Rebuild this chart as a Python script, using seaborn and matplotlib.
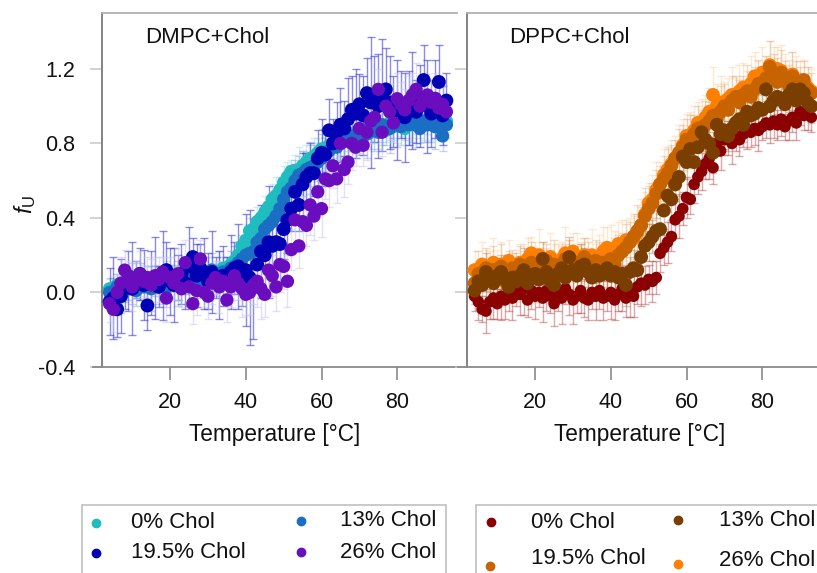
import matplotlib
matplotlib.use("Agg")
import numpy as np
import pandas as pd
import matplotlib.pyplot as plt
import seaborn as sns
from matplotlib.lines import Line2D
from matplotlib.patches import Rectangle

sns.set_style("white")
plt.rcParams["font.family"] = ["Liberation Sans", "DejaVu Sans"]
plt.rcParams["mathtext.fontset"] = "custom"
plt.rcParams["mathtext.rm"] = "Liberation Sans"
plt.rcParams["mathtext.it"] = "Liberation Sans:italic"

# ---------------- data ----------------
temperature = [4, 5, 6, 7, 8, 9, 10, 11, 12, 13,
               14, 15, 16, 17, 18, 19, 20, 21, 22, 23,
               24, 25, 26, 27, 28, 29, 30, 31, 32, 33,
               34, 35, 36, 37, 38, 39, 40, 41, 42, 43,
               44, 45, 46, 47, 48, 49, 50, 51, 52, 53,
               54, 55, 56, 57, 58, 59, 60, 61, 62, 63,
               64, 65, 66, 67, 68, 69, 70, 71, 72, 73,
               74, 75, 76, 77, 78, 79, 80, 81, 82, 83,
               84, 85, 86, 87, 88, 89, 90, 91, 92, 93]

labels = ["0% Chol", "13% Chol", "19.5% Chol", "26% Chol"]

dmpc_0 = [0.02, 0.00, 0.04, -0.02, 0.05, 0.03, 0.06, 0.02, 0.04, 0.07,
          0.03, 0.05, 0.08, 0.04, 0.06, 0.09, 0.05, 0.07, 0.10, 0.06,
          0.08, 0.11, 0.07, 0.09, 0.12, 0.08, 0.10, 0.07, 0.11, 0.09,
          0.13, 0.12, 0.15, 0.17, 0.20, 0.25, 0.28, 0.33, 0.34, 0.38,
          0.40, 0.43, 0.46, 0.50, 0.52, 0.55, 0.59, 0.62, 0.65, 0.64,
          0.66, 0.68, 0.70, 0.72, 0.73, 0.75, 0.77, 0.76, 0.79, 0.80,
          0.81, 0.80, 0.83, 0.84, 0.82, 0.86, 0.85, 0.87, 0.88, 0.86,
          0.89, 0.88, 0.90, 0.87, 0.91, 0.89, 0.90, 0.92, 0.88, 0.91,
          0.90, 0.93, 0.89, 0.91, 0.92, 0.90, 0.93, 0.91, 0.89, 0.92]
dmpc_13 = [0.00, -0.02, 0.03, 0.01, 0.04, 0.02, 0.05, 0.01, 0.06, 0.03,
           0.05, 0.02, 0.06, 0.04, 0.07, 0.03, 0.06, 0.08, 0.05, 0.07,
           0.09, 0.06, 0.10, 0.08, 0.07, 0.11, 0.09, 0.12, 0.08, 0.10,
           0.11, 0.09, 0.13, 0.14, 0.16, 0.18, 0.20, 0.21, 0.22, 0.27,
           0.29, 0.34, 0.36, 0.38, 0.41, 0.45, 0.50, 0.54, 0.56, 0.60,
           0.63, 0.64, 0.66, 0.67, 0.68, 0.70, 0.72, 0.74, 0.76, 0.79,
           0.78, 0.80, 0.81, 0.82, 0.84, 0.83, 0.85, 0.86, 0.85, 0.87,
           0.88, 0.86, 0.90, 0.89, 0.88, 0.91, 0.90, 0.89, 0.92, 0.90,
           0.91, 0.90, 0.88, 0.92, 0.90, 0.91, 0.89, 0.93, 0.84, 0.90]
dmpc_195 = [-0.05, -0.03, -0.09, -0.02, 0.03, 0.06, 0.02, 0.07, 0.10, 0.04,
            -0.07, 0.05, 0.08, 0.03, 0.09, 0.12, 0.06, 0.04, 0.08, 0.10,
            0.05, 0.14, 0.19, 0.09, 0.13, 0.10, 0.06, 0.11, 0.08, 0.04,
            0.09, 0.07, 0.11, 0.13, 0.14, 0.10, 0.12, 0.08, 0.03, 0.15,
            0.22, 0.20, 0.27, 0.25, 0.27, 0.26, 0.34, 0.39, 0.45, 0.54,
            0.47, 0.58, 0.62, 0.64, 0.64, 0.72, 0.75, 0.74, 0.87, 0.80,
            0.86, 0.90, 0.88, 0.93, 0.98, 0.96, 1.01, 0.95, 1.07, 1.02,
            1.04, 1.00, 1.06, 1.09, 1.02, 0.97, 0.98, 1.01, 0.94, 0.99,
            1.03, 0.97, 1.00, 1.14, 1.00, 0.96, 1.04, 1.13, 0.95, 1.03]
dmpc_26 = [-0.06, -0.09, 0.00, 0.05, 0.12, 0.09, 0.03, 0.07, 0.10, 0.06,
           0.08, 0.04, 0.09, 0.07, 0.11, -0.03, 0.08, 0.05, 0.10, 0.02,
           0.16, 0.03, -0.06, 0.01, 0.18, 0.00, -0.02, 0.05, 0.08, 0.03,
           0.06, -0.04, 0.03, 0.09, 0.05, 0.02, -0.01, 0.00, 0.04, 0.06,
           0.02, -0.01, 0.12, 0.09, 0.03, 0.15, 0.14, 0.06, 0.23, 0.39,
           0.25, 0.38, 0.36, 0.47, 0.41, 0.54, 0.45, 0.61, 0.60, 0.68,
           0.61, 0.80, 0.66, 0.70, 0.80, 0.78, 0.88, 0.79, 0.86, 0.92,
           0.94, 1.09, 0.86, 1.00, 0.97, 0.91, 1.04, 1.01, 0.98, 1.03,
           1.06, 1.09, 1.00, 1.04, 1.06, 1.02, 1.04, 0.99, 1.01, 0.97]

dppc_0 = [-0.02, -0.05, -0.09, -0.10, -0.05, -0.03, -0.06, -0.02, -0.04, -0.01,
          -0.03, 0.01, -0.01, 0.02, -0.04, 0.01, -0.02, 0.00, -0.03, 0.01,
          -0.02, -0.06, 0.00, -0.03, 0.02, -0.01, -0.04, -0.02, 0.01, -0.03,
          -0.04, 0.00, -0.02, 0.01, -0.03, -0.02, 0.00, -0.04, -0.01, 0.02,
          -0.03, 0.00, -0.02, 0.03, 0.05, 0.04, 0.07, 0.06, 0.08, 0.21,
          0.24, 0.27, 0.30, 0.39, 0.41, 0.45, 0.51, 0.50, 0.58, 0.62,
          0.65, 0.69, 0.72, 0.67, 0.80, 0.76, 0.82, 0.83, 0.80, 0.84,
          0.82, 0.85, 0.87, 0.86, 0.88, 0.87, 0.89, 0.91, 0.90, 0.92,
          0.90, 0.93, 0.89, 0.92, 0.94, 0.91, 0.97, 0.95, 0.96, 0.94]
dppc_13 = [0.01, 0.06, 0.04, 0.11, 0.08, 0.05, 0.09, 0.11, 0.07, 0.03,
           0.08, 0.06, 0.09, 0.12, 0.05, 0.09, 0.10, 0.07, 0.18, 0.11,
           0.06, 0.04, 0.10, 0.13, 0.08, 0.19, 0.12, 0.09, 0.14, 0.15,
           0.11, 0.08, 0.12, 0.09, 0.10, 0.13, 0.09, 0.11, 0.08, 0.10,
           0.04, 0.11, 0.13, 0.12, 0.19, 0.25, 0.27, 0.30, 0.33, 0.34,
           0.44, 0.52, 0.50, 0.58, 0.62, 0.73, 0.70, 0.77, 0.70, 0.78,
           0.86, 0.82, 0.80, 0.75, 0.90, 0.85, 0.87, 0.84, 0.88, 0.91,
           0.93, 0.90, 0.97, 0.95, 0.96, 0.99, 0.98, 1.09, 1.00, 1.03,
           1.05, 1.04, 1.01, 1.06, 1.09, 1.03, 1.09, 1.07, 1.02, 1.00]
dppc_195 = [0.05, 0.10, 0.08, 0.13, 0.07, 0.12, 0.09, 0.14, 0.06, 0.11,
            0.13, 0.08, 0.15, 0.10, 0.12, 0.16, 0.09, 0.14, 0.11, 0.17,
            0.12, 0.15, 0.10, 0.13, 0.18, 0.14, 0.11, 0.16, 0.13, 0.19,
            0.15, 0.12, 0.17, 0.14, 0.16, 0.13, 0.18, 0.15, 0.20, 0.22,
            0.24, 0.27, 0.30, 0.33, 0.36, 0.41, 0.45, 0.48, 0.53, 0.58,
            0.61, 0.64, 0.68, 0.72, 0.75, 0.78, 0.82, 0.81, 0.85, 0.88,
            0.87, 0.90, 0.92, 0.95, 0.93, 0.97, 1.00, 0.98, 1.03, 1.05,
            1.02, 1.06, 1.08, 1.05, 1.09, 1.12, 1.10, 1.15, 1.21, 1.17,
            1.13, 1.18, 1.14, 1.11, 1.16, 1.12, 1.10, 1.14, 1.09, 1.07]
dppc_26 = [0.12, 0.09, 0.15, 0.14, 0.11, 0.16, 0.13, 0.15, 0.12, 0.17,
           0.14, 0.11, 0.16, 0.13, 0.18, 0.21, 0.15, 0.20, 0.17, 0.13,
           0.19, 0.16, 0.14, 0.18, 0.21, 0.17, 0.22, 0.19, 0.15, 0.20,
           0.18, 0.20, 0.16, 0.19, 0.22, 0.24, 0.21, 0.23, 0.26, 0.25,
           0.28, 0.27, 0.29, 0.32, 0.36, 0.42, 0.48, 0.50, 0.55, 0.58,
           0.63, 0.66, 0.69, 0.72, 0.74, 0.79, 0.84, 0.82, 0.87, 0.91,
           0.90, 0.94, 0.97, 1.06, 1.00, 1.02, 1.00, 1.04, 1.06, 1.03,
           1.08, 1.10, 1.07, 1.12, 1.16, 1.13, 1.18, 1.15, 1.22, 1.17,
           1.20, 1.19, 1.15, 1.14, 1.17, 1.13, 1.11, 1.13, 1.10, 1.08]

# error bars (in units of 0.01)
err_dmpc_0 = [5, 4, 6, 5, 7, 4, 6, 5, 8, 5, 6, 4, 7, 5, 6, 8, 5, 7, 4, 6,
              5, 7, 6, 4, 8, 5, 6, 7, 5, 4, 6, 5, 7, 8, 6, 5, 9, 7, 6, 8,
              7, 9, 6, 8, 10, 7, 9, 8, 6, 10, 12, 8, 9, 7, 10, 8, 11, 9, 7, 8,
              9, 7, 10, 8, 6, 9, 7, 8, 10, 6, 8, 7, 9, 6, 8, 7, 10, 8, 6, 9,
              7, 8, 6, 9, 7, 8, 6, 7, 5, 6]
err_dmpc_13 = [8, 10, 7, 12, 9, 6, 11, 8, 10, 7, 9, 12, 8, 10, 6, 11, 9, 7, 12, 8,
               10, 7, 9, 11, 8, 6, 10, 9, 7, 12, 8, 10, 9, 11, 7, 13, 9, 10, 8, 12,
               14, 10, 12, 9, 11, 13, 10, 12, 9, 11, 10, 12, 9, 14, 11, 10, 13, 9, 12, 10,
               11, 9, 13, 10, 12, 8, 11, 9, 13, 10, 12, 9, 11, 10, 13, 8, 12, 10, 9, 11,
               10, 12, 8, 11, 9, 10, 12, 9, 8, 7]
err_dmpc_195 = [18, 22, 15, 20, 12, 16, 25, 10, 14, 19, 13, 17, 22, 11, 24, 15, 18, 20, 12, 16,
                14, 21, 10, 17, 13, 19, 15, 22, 11, 18, 16, 12, 20, 14, 23, 17, 30, 36, 28, 15,
                25, 19, 30, 17, 14, 20, 16, 18, 12, 15, 14, 17, 13, 16, 12, 15, 18, 14, 17, 13,
                16, 20, 15, 22, 18, 24, 16, 21, 19, 35, 23, 28, 30, 22, 25, 19, 27, 18, 24, 20,
                26, 17, 22, 19, 25, 18, 21, 20, 16, 15]
err_dmpc_26 = [10, 12, 9, 14, 11, 8, 13, 10, 12, 9, 11, 14, 10, 12, 8, 13, 11, 9, 14, 10,
               12, 9, 11, 13, 10, 8, 12, 11, 9, 14, 10, 12, 11, 13, 9, 15, 11, 12, 10, 14,
               16, 12, 14, 11, 13, 15, 12, 14, 11, 13, 12, 14, 11, 16, 13, 12, 15, 11, 14, 12,
               13, 11, 15, 12, 14, 10, 13, 11, 15, 12, 14, 11, 13, 12, 15, 10, 14, 12, 11, 13,
               12, 14, 10, 13, 11, 12, 14, 11, 10, 9]
err_dppc_0 = [8, 10, 7, 12, 9, 11, 8, 13, 10, 9, 12, 8, 11, 14, 9, 10, 12, 8, 13, 11,
              9, 12, 10, 14, 8, 11, 13, 9, 12, 10, 11, 9, 13, 10, 12, 8, 14, 11, 9, 12,
              10, 13, 11, 9, 12, 10, 8, 11, 9, 10, 9, 11, 8, 10, 12, 9, 11, 8, 10, 9,
              10, 8, 11, 9, 7, 10, 8, 9, 11, 8, 9, 7, 10, 8, 9, 11, 7, 8, 10, 9,
              8, 9, 7, 10, 8, 9, 7, 8, 9, 8]
err_dppc_13 = [7, 9, 6, 10, 8, 12, 7, 9, 11, 8, 10, 7, 9, 12, 8, 10, 6, 11, 9, 8,
               10, 12, 8, 9, 7, 11, 10, 8, 12, 9, 8, 10, 7, 11, 9, 10, 8, 12, 9, 10,
               11, 8, 10, 9, 12, 8, 10, 9, 11, 8, 10, 9, 11, 8, 10, 12, 9, 8, 10, 9,
               8, 10, 9, 11, 8, 9, 10, 8, 9, 11, 8, 9, 10, 8, 11, 9, 8, 10, 9, 8,
               9, 10, 8, 9, 11, 8, 9, 10, 8, 9]
err_dppc_195 = [9, 12, 8, 11, 10, 13, 9, 12, 10, 11, 8, 13, 10, 12, 9, 11, 14, 10, 12, 9,
                11, 13, 10, 12, 8, 14, 11, 9, 13, 10, 12, 9, 11, 13, 10, 12, 9, 14, 11, 10,
                13, 11, 12, 14, 10, 15, 12, 11, 13, 10, 12, 14, 11, 10, 13, 12, 11, 14, 10, 12,
                11, 13, 10, 12, 11, 14, 12, 10, 13, 11, 12, 10, 14, 11, 12, 13, 10, 12, 14, 11,
                13, 12, 10, 11, 13, 12, 11, 10, 12, 11]
err_dppc_26 = [10, 8, 12, 9, 11, 13, 10, 12, 8, 11, 9, 12, 10, 13, 11, 9, 12, 14, 10, 11,
               13, 10, 12, 9, 14, 11, 10, 13, 12, 9, 11, 14, 10, 12, 13, 11, 15, 10, 12, 14,
               11, 13, 12, 10, 14, 12, 11, 13, 15, 12, 14, 11, 13, 12, 16, 14, 12, 15, 13, 11,
               14, 12, 13, 15, 12, 14, 13, 11, 15, 12, 14, 13, 12, 15, 13, 11, 14, 12, 13, 15,
               12, 14, 13, 11, 12, 14, 13, 12, 11, 12]

# ---------------- styling ----------------
W, H = 817, 573
fig = plt.figure(figsize=(W / 100, H / 100), dpi=100)


def px_rect(x0, y0, x1, y1):
    return [x0 / W, 1 - y1 / H, (x1 - x0) / W, (y1 - y0) / H]


XL = (-0.38, 95.8)
YL = (-0.4, 1.5)
ax1 = fig.add_axes(px_rect(93, 13, 457, 367))
ax2 = fig.add_axes(px_rect(458, 13, 822, 367))

dmpc_colors = ["#1fbdbd", "#1a6fc4", "#0000b4", "#6a0dbf"]
dmpc_ecolors = ["#9ad8e8", "#7aa8e0", "#3c3cd8", "#c8c4f0"]
dmpc_ealpha = [0.45, 0.45, 0.6, 0.5]
dppc_colors = ["#8b0000", "#7a3f00", "#c86400", "#ff8000"]
dppc_ecolors = ["#b04040", "#9a6a40", "#d89050", "#ffb870"]
dppc_ealpha = [0.45, 0.35, 0.3, 0.3]


def draw_panel(ax, series, errs, colors, ecolors, ealphas, sizes, order):
    T = np.array(temperature, dtype=float)
    for i in order:
        ax.errorbar(T, series[i], yerr=np.array(errs[i]) / 100.0, fmt="none",
                    ecolor=ecolors[i], elinewidth=1.0, capsize=3, capthick=1.0,
                    alpha=ealphas[i], zorder=1)
    for i in order:
        df = pd.DataFrame({"T": T, "f": series[i]})
        sns.scatterplot(data=df, x="T", y="f", color=colors[i], s=sizes[i],
                        linewidth=0, edgecolor="none", ax=ax, zorder=3, legend=False)


draw_panel(ax1, [dmpc_0, dmpc_13, dmpc_195, dmpc_26],
           [err_dmpc_0, err_dmpc_13, err_dmpc_195, err_dmpc_26],
           dmpc_colors, dmpc_ecolors, dmpc_ealpha, [92, 92, 100, 92], [0, 1, 2, 3])
draw_panel(ax2, [dppc_0, dppc_13, dppc_195, dppc_26],
           [err_dppc_0, err_dppc_13, err_dppc_195, err_dppc_26],
           dppc_colors, dppc_ecolors, dppc_ealpha, [70, 100, 100, 100], [0, 3, 2, 1])

for ax in (ax1, ax2):
    ax.set_xlim(XL)
    ax.set_ylim(YL)
    ax.set_facecolor("white")
    ax.spines["left"].set_position(("data", 2.0))
    ax.spines["top"].set_bounds(2.0, XL[1])
    ax.spines["right"].set_visible(False)
    ax.spines["left"].set_color("#7a7a7a")
    ax.spines["bottom"].set_color("#8a8a8a")
    ax.spines["top"].set_color("#b0b0b0")
    for s in ("left", "bottom", "top"):
        ax.spines[s].set_linewidth(1.3)
    ax.set_xticks([20, 40, 60, 80])
    ax.set_xticklabels(["20", "40", "60", "80"])
    ax.set_yticks([-0.4, 0.0, 0.4, 0.8, 1.2])
    ax.set_yticklabels(["-0.4", "0.0", "0.4", "0.8", "1.2"])
    ax.tick_params(axis="both", direction="out", length=9, width=1.1,
                   labelsize=15.5, labelcolor="#111111")
    ax.tick_params(axis="x", pad=9, bottom=True, color="#808080")
    ax.tick_params(axis="y", pad=10, left=True, color="#c8c8c8")
    ax.set_xlabel("Temperature [°C]", fontsize=16.3, labelpad=7, color="#111111")
    ax.set_ylabel("")
    ax.grid(False)

ax2.tick_params(axis="y", labelleft=False)
ax1.set_ylabel(r"$f_{\mathrm{U}}$", fontsize=17, color="#111111")
ax1.yaxis.set_label_coords(-0.15, 0.46)

ax1.text(0.143, 0.93, "DMPC+Chol", transform=ax1.transAxes, fontsize=16,
         va="center", ha="left", color="#111111")
ax2.text(0.14, 0.93, "DPPC+Chol", transform=ax2.transAxes, fontsize=16,
         va="center", ha="left", color="#111111")

# ---------------- legends ----------------
fig.add_artist(Rectangle((82 / W, 1 - 620 / H), (446 - 82) / W, (620 - 505) / H,
                         transform=fig.transFigure, fill=False, edgecolor="#c0c0c0", lw=1.2))
fig.add_artist(Rectangle((476 / W, 1 - 620 / H), (860 - 476) / W, (620 - 505) / H,
                         transform=fig.transFigure, fill=False, edgecolor="#c0c0c0", lw=1.2))

left_pos = [(96, 523, 131, 523), (301, 521, 340, 521), (96, 553, 131, 553), (301, 552, 340, 552)]
right_pos = [(491, 522, 531, 522), (678, 520, 719, 520), (490, 566, 531, 558), (678, 564, 719, 561)]

for pos, col, lab in zip(left_pos, dmpc_colors, labels):
    mx, my, tx, ty = pos
    fig.add_artist(Line2D([mx / W], [1 - my / H], marker="o", ms=6, color=col,
                          linestyle="none", transform=fig.transFigure))
    fig.text(tx / W, 1 - ty / H, lab, fontsize=16, va="center", ha="left", color="#111111")

for pos, col, lab in zip(right_pos, dppc_colors, labels):
    mx, my, tx, ty = pos
    fig.add_artist(Line2D([mx / W], [1 - my / H], marker="o", ms=6, color=col,
                          linestyle="none", transform=fig.transFigure))
    fig.text(tx / W, 1 - ty / H, lab, fontsize=16, va="center", ha="left", color="#111111")

fig.savefig("out.png", dpi=100, facecolor="white")
